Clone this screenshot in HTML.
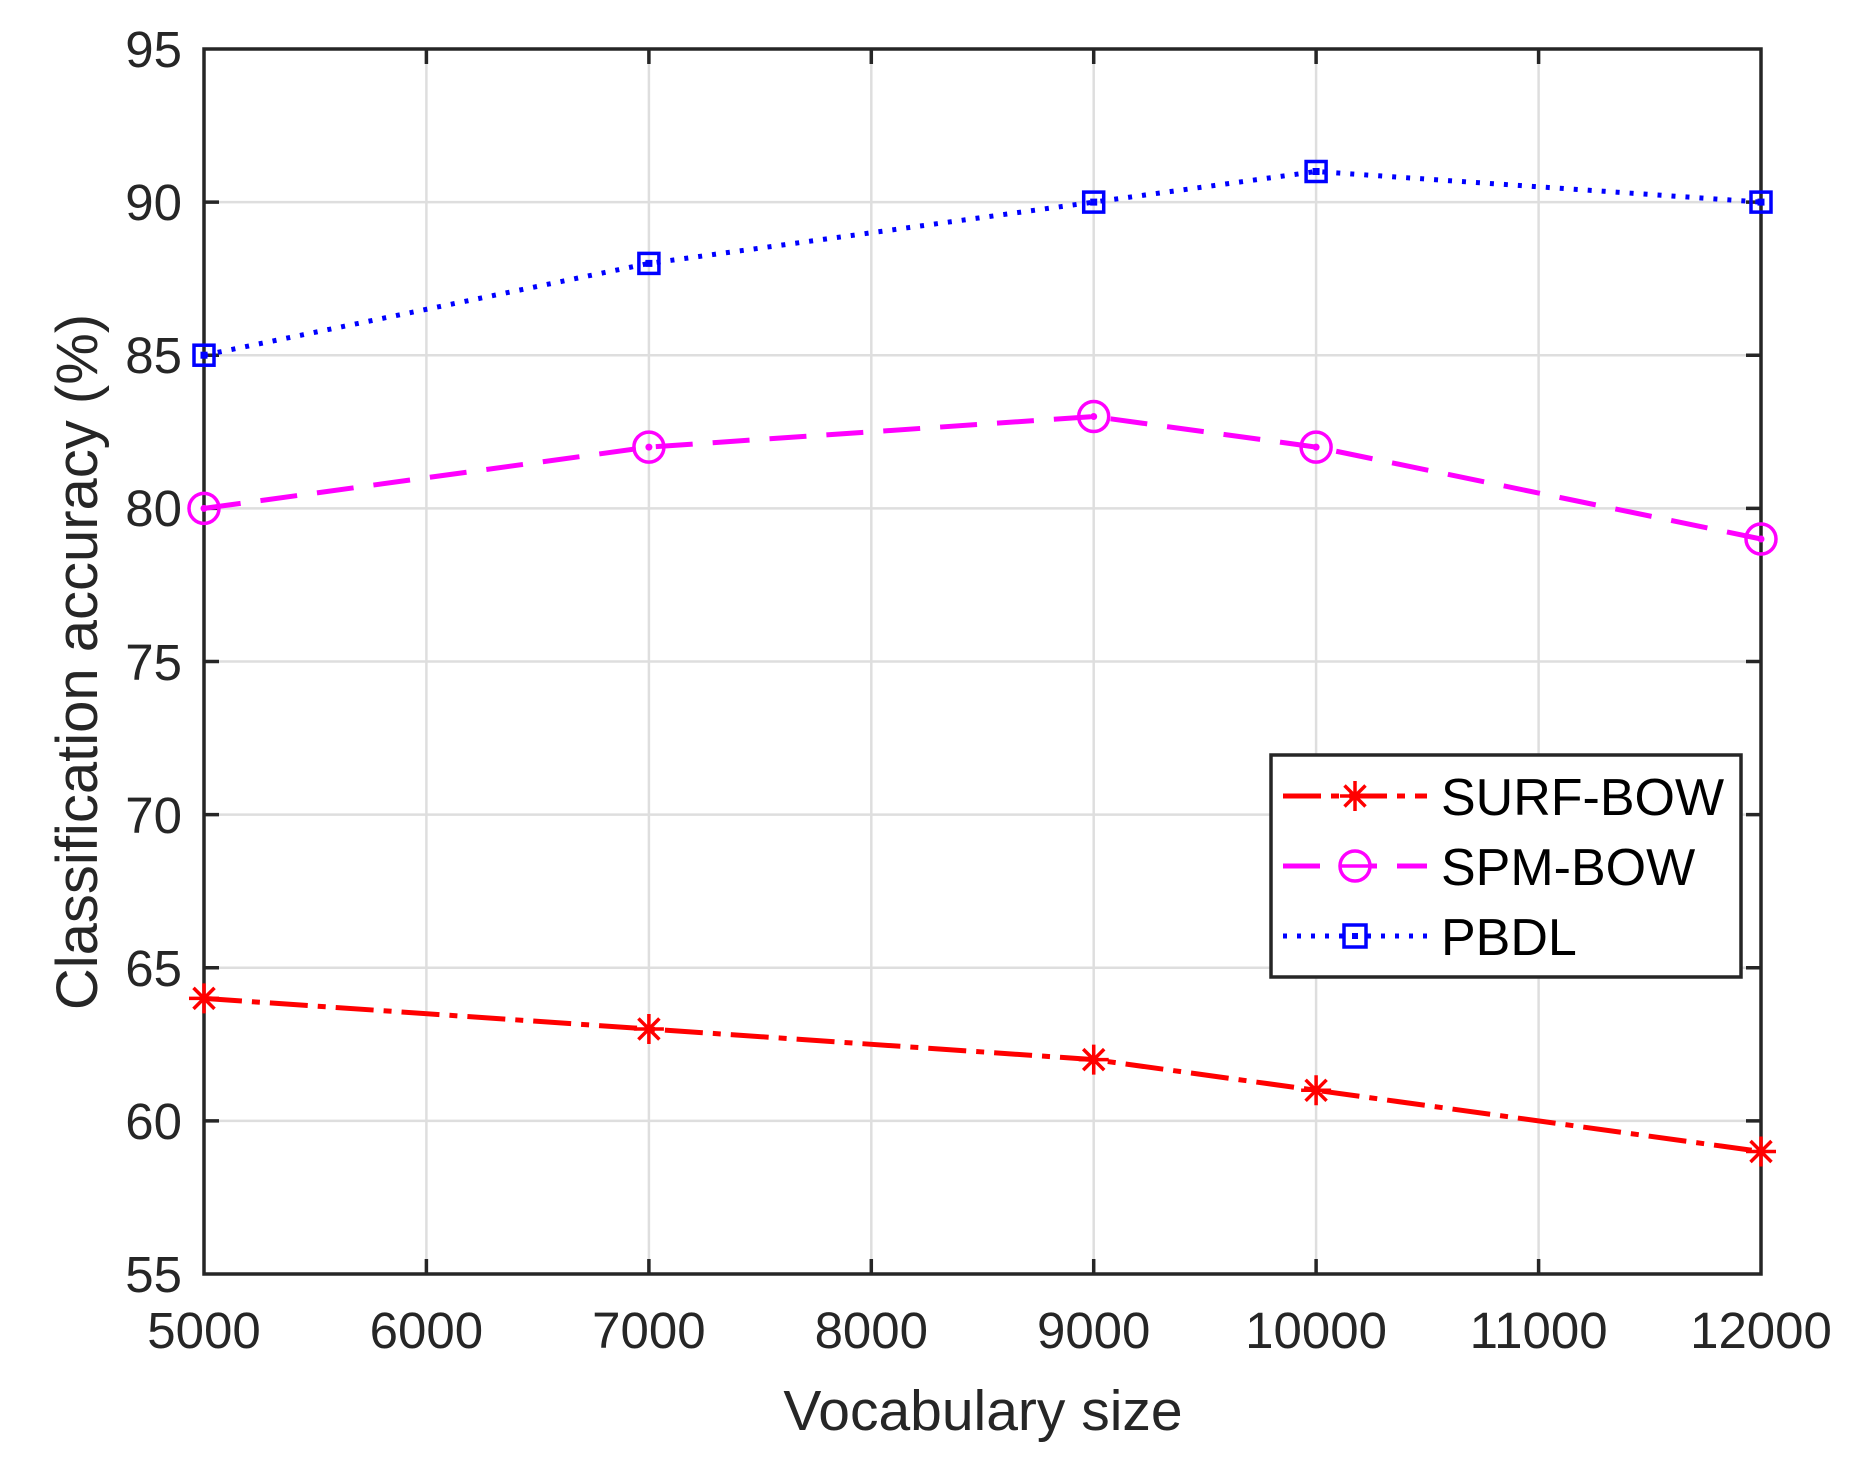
<!DOCTYPE html>
<html><head><style>body{margin:0;background:#fff}svg{display:block}</style></head><body>
<svg width="1868" height="1467" viewBox="0 0 1868 1467" xmlns="http://www.w3.org/2000/svg" font-family="Liberation Sans, sans-serif">
<defs><path id="st" d="M-15 0h30M0 -15v30M-10.5 -10.5l21 21M-10.5 10.5l21 -21"/></defs>
<rect width="1868" height="1467" fill="#fff"/>
<g stroke="#dedede" stroke-width="2.5">
<line x1="426.4" y1="49" x2="426.4" y2="1274"/><line x1="648.9" y1="49" x2="648.9" y2="1274"/><line x1="871.3" y1="49" x2="871.3" y2="1274"/><line x1="1093.7" y1="49" x2="1093.7" y2="1274"/><line x1="1316.1" y1="49" x2="1316.1" y2="1274"/><line x1="1538.6" y1="49" x2="1538.6" y2="1274"/>
<line x1="204" y1="1120.9" x2="1761" y2="1120.9"/><line x1="204" y1="967.8" x2="1761" y2="967.8"/><line x1="204" y1="814.6" x2="1761" y2="814.6"/><line x1="204" y1="661.5" x2="1761" y2="661.5"/><line x1="204" y1="508.4" x2="1761" y2="508.4"/><line x1="204" y1="355.2" x2="1761" y2="355.2"/><line x1="204" y1="202.1" x2="1761" y2="202.1"/>
</g>
<g stroke="#262626" stroke-width="3.5">
<path d="M426.4 1274v-15M648.9 1274v-15M871.3 1274v-15M1093.7 1274v-15M1316.1 1274v-15M1538.6 1274v-15M426.4 49v15M648.9 49v15M871.3 49v15M1093.7 49v15M1316.1 49v15M1538.6 49v15"/>
<path d="M204 1120.9h15M204 967.8h15M204 814.6h15M204 661.5h15M204 508.4h15M204 355.2h15M204 202.1h15M1761 1120.9h-15M1761 967.8h-15M1761 814.6h-15M1761 661.5h-15M1761 508.4h-15M1761 355.2h-15M1761 202.1h-15"/>
<rect x="204" y="49" width="1557" height="1225" fill="none"/>
</g>
<g fill="#262626" font-size="51" text-anchor="end">
<text x="182" y="1292">55</text><text x="182" y="1139">60</text><text x="182" y="986">65</text><text x="182" y="833">70</text><text x="182" y="680">75</text><text x="182" y="526">80</text><text x="182" y="373">85</text><text x="182" y="220">90</text><text x="182" y="67">95</text>
</g>
<g fill="#262626" font-size="51" text-anchor="middle">
<text x="204" y="1348">5000</text><text x="426.4" y="1348">6000</text><text x="648.9" y="1348">7000</text><text x="871.3" y="1348">8000</text><text x="1093.7" y="1348">9000</text><text x="1316.1" y="1348">10000</text><text x="1538.6" y="1348">11000</text><text x="1761" y="1348">12000</text>
<text x="983" y="1430" font-size="57">Vocabulary size</text>
<text transform="translate(97,662) rotate(-90)" font-size="58">Classification accuracy (%)</text>
</g>
<polyline points="204,998.4 648.9,1029 1093.7,1059.6 1316.1,1090.3 1761,1151.5" fill="none" stroke="#f00" stroke-width="5" stroke-dasharray="38,10,8,10"/>
<g stroke="#f00" stroke-width="3.5" fill="none">
<use href="#st" x="204" y="998.4"/><use href="#st" x="648.9" y="1029"/><use href="#st" x="1093.7" y="1059.6"/><use href="#st" x="1316.1" y="1090.3"/><use href="#st" x="1761" y="1151.5"/>
</g>
<polyline points="204,508.4 648.9,447.1 1093.7,416.5 1316.1,447.1 1761,539" fill="none" stroke="#f0f" stroke-width="5" stroke-dasharray="37,20"/>
<g stroke="#f0f" stroke-width="3.5" fill="none">
<circle cx="204" cy="508.4" r="15"/><circle cx="648.9" cy="447.1" r="15"/><circle cx="1093.7" cy="416.5" r="15"/><circle cx="1316.1" cy="447.1" r="15"/><circle cx="1761" cy="539" r="15"/>
</g>
<g fill="#f0f"><circle cx="204" cy="508.4" r="3.5"/><circle cx="648.9" cy="447.1" r="3.5"/><circle cx="1093.7" cy="416.5" r="3.5"/><circle cx="1316.1" cy="447.1" r="3.5"/><circle cx="1761" cy="539" r="3.5"/></g>
<polyline points="204,355.2 648.9,263.4 1093.7,202.1 1316.1,171.5 1761,202.1" fill="none" stroke="#00f" stroke-width="5" stroke-dasharray="4,10"/>
<g stroke="#00f" stroke-width="3.5" fill="none">
<rect x="194" y="345.2" width="20" height="20"/><rect x="638.9" y="253.4" width="20" height="20"/><rect x="1083.7" y="192.1" width="20" height="20"/><rect x="1306.1" y="161.5" width="20" height="20"/><rect x="1751" y="192.1" width="20" height="20"/>
</g>
<g fill="#00f"><rect x="200.5" y="351.7" width="7" height="7"/><rect x="645.4" y="259.9" width="7" height="7"/><rect x="1090.2" y="198.6" width="7" height="7"/><rect x="1312.6" y="168" width="7" height="7"/><rect x="1757.5" y="198.6" width="7" height="7"/></g>
<rect x="1271" y="755" width="470" height="222" fill="#fff" stroke="#262626" stroke-width="3.5"/>
<line x1="1283" y1="796" x2="1427" y2="796" stroke="#f00" stroke-width="5" stroke-dasharray="38,10,8,10"/>
<use href="#st" x="1355" y="796" stroke="#f00" stroke-width="3.5"/>
<line x1="1283" y1="866" x2="1427" y2="866" stroke="#f0f" stroke-width="5" stroke-dasharray="37,20"/>
<circle cx="1355" cy="866" r="15" fill="#fff" stroke="#f0f" stroke-width="3.5"/>
<line x1="1340" y1="866" x2="1370" y2="866" stroke="#f0f" stroke-width="3.5"/>
<line x1="1283" y1="936" x2="1427" y2="936" stroke="#00f" stroke-width="5" stroke-dasharray="4,10"/>
<rect x="1344" y="925" width="22" height="22" fill="#fff" stroke="#00f" stroke-width="3.5"/>
<rect x="1352" y="933" width="6" height="6" fill="#00f"/>
<g font-size="52" fill="#000"><text x="1441" y="815">SURF-BOW</text><text x="1441" y="885">SPM-BOW</text><text x="1441" y="955">PBDL</text></g>
</svg>
</body></html>
